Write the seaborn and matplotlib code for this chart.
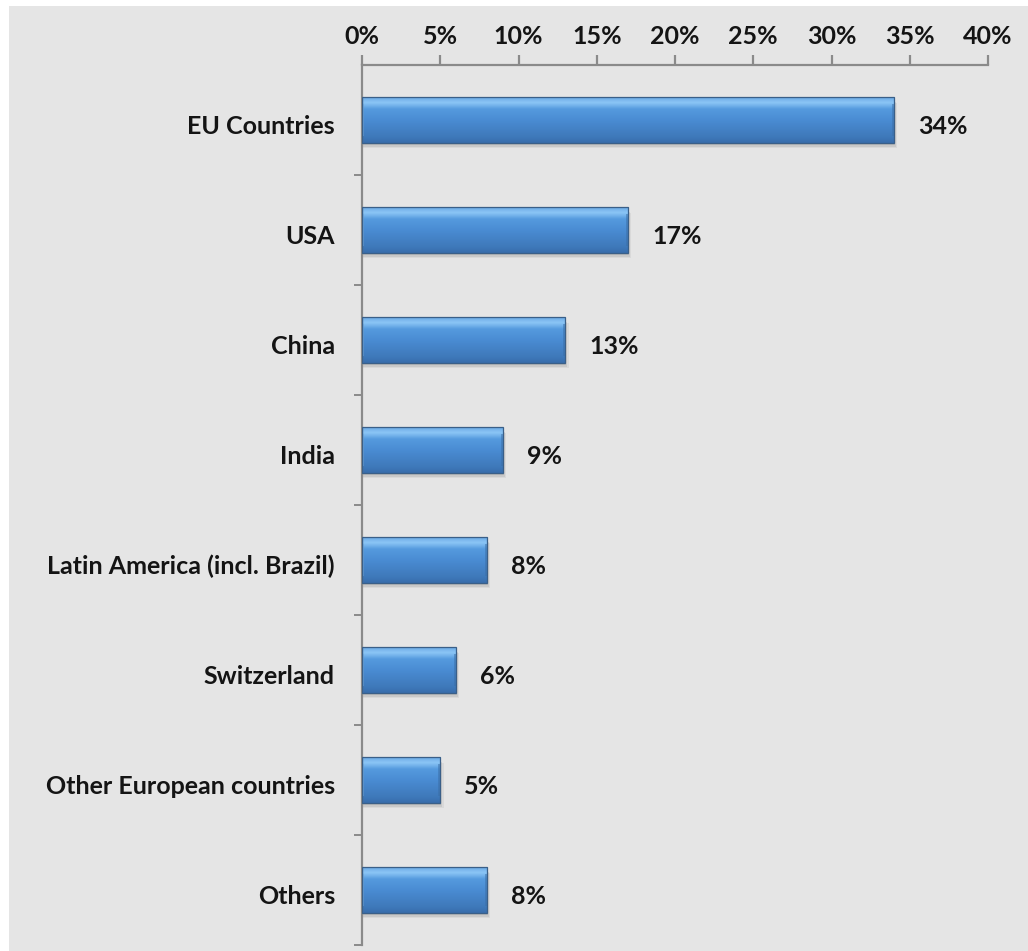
import numpy as np
import pandas as pd
import matplotlib
matplotlib.use("Agg")
import matplotlib.pyplot as plt
import seaborn as sns
from matplotlib.patches import Rectangle
from matplotlib.colors import LinearSegmentedColormap
from matplotlib.ticker import FuncFormatter
from matplotlib.transforms import ScaledTranslation

regions = ["EU Countries", "USA", "China", "India", "Latin America (incl. Brazil)",
           "Switzerland", "Other European countries", "Others"]
shares = [34, 17, 13, 9, 8, 6, 5, 8]
x_ticks = [0, 5, 10, 15, 20, 25, 30, 35, 40]

df = pd.DataFrame({"region": regions, "share": shares})

sns.set_theme(style="white")
plt.rcParams["font.family"] = ["Lato", "DejaVu Sans"]
plt.rcParams["font.weight"] = "bold"

BG = "#e5e5e5"
SPINE = "#8a8a8a"
TXT = "#141414"
FS = 18

fig = plt.figure(figsize=(10.28, 9.51), dpi=100, facecolor="white")
fig.patches.append(Rectangle((9 / 1028, 0), 1, 1 - 6 / 951, transform=fig.transFigure,
                             facecolor=BG, edgecolor="none", zorder=-10))
ax = fig.add_axes([362 / 1028, 1 - 945 / 951, (988 - 362) / 1028, (945 - 65) / 951])
ax.set_facecolor(BG)

sns.barplot(data=df, y="region", x="share", orient="h", ax=ax, width=0.41,
            color="#4a8dd3", saturation=1)

# bar gradient: light top edge, mid blue body, darker base
grad = LinearSegmentedColormap.from_list(
    "bar", [(0.0, "#386cab"), (0.12, "#3e78b9"), (0.5, "#4a8cd3"),
            (0.74, "#559ade"), (0.88, "#8cc6f6"), (1.0, "#6aa8e4")])
g = np.linspace(0, 1, 256).reshape(-1, 1)

for p in list(ax.patches):
    x0, y0, w, h = p.get_x(), p.get_y(), p.get_width(), p.get_height()
    # soft drop shadow
    for k, a in enumerate([0.05, 0.07, 0.09]):
        off = 0.025 + 0.014 * (2 - k)
        sh = Rectangle((x0 + 0.05, y0 + off), w + 0.08 * (2 - k), h,
                       facecolor="#000000", alpha=a, edgecolor="none", zorder=1.5)
        ax.add_patch(sh)
    p.set_facecolor("none")
    p.set_edgecolor("#3a5f88")
    p.set_linewidth(0.9)
    p.set_zorder(3)
    ax.imshow(g, cmap=grad, aspect="auto", extent=(x0, x0 + w, y0 + h, y0),
              origin="lower", zorder=2, interpolation="bicubic")
    # slim highlights on the bar ends
    ax.add_patch(Rectangle((x0, y0 + h * 0.15), 0.12, h * 0.7, facecolor="#6fb0ea",
                           alpha=0.5, edgecolor="none", zorder=2.5))
    ax.add_patch(Rectangle((x0 + w - 0.15, y0 + h * 0.15), 0.15, h * 0.7,
                           facecolor="#3b6fa8", alpha=0.5, edgecolor="none", zorder=2.5))

ax.set_xlim(0, 40)
ax.set_ylim(len(regions) - 0.5, -0.5)

for i, v in enumerate(shares):
    ax.annotate(f"{v}%", xy=(v, i), xytext=(24, -4), textcoords="offset pixels",
                va="center_baseline", ha="left", fontsize=FS, fontweight="bold",
                color=TXT, zorder=4)

ax.xaxis.set_ticks_position("top")
ax.set_xticks(x_ticks)
ax.xaxis.set_major_formatter(FuncFormatter(lambda v, _: f"{int(v)}%"))
ax.set_yticks(np.arange(len(regions)))
ax.set_yticklabels(regions)
ax.set_yticks(np.arange(len(regions)) + 0.5, minor=True)

ax.tick_params(axis="x", which="major", top=True, bottom=False, length=7.2, width=1.6,
               color=SPINE, labelsize=FS, pad=5, labelcolor=TXT)
ax.tick_params(axis="y", which="major", left=False, length=0, pad=19.5,
               labelsize=FS, labelcolor=TXT)
ax.tick_params(axis="y", which="minor", left=True, length=6, width=1.4, color=SPINE)

shift = ScaledTranslation(0, -0.04, fig.dpi_scale_trans)
for lbl in ax.get_xticklabels():
    lbl.set_fontweight("bold")
for lbl in ax.get_yticklabels():
    lbl.set_fontweight("bold")
    lbl.set_transform(lbl.get_transform() + shift)

ax.set_xlabel("")
ax.set_ylabel("")
for s in ["right", "bottom"]:
    ax.spines[s].set_visible(False)
for s in ["top", "left"]:
    ax.spines[s].set_color(SPINE)
    ax.spines[s].set_linewidth(1.6)

fig.savefig("out.png", dpi=100, facecolor="white")
